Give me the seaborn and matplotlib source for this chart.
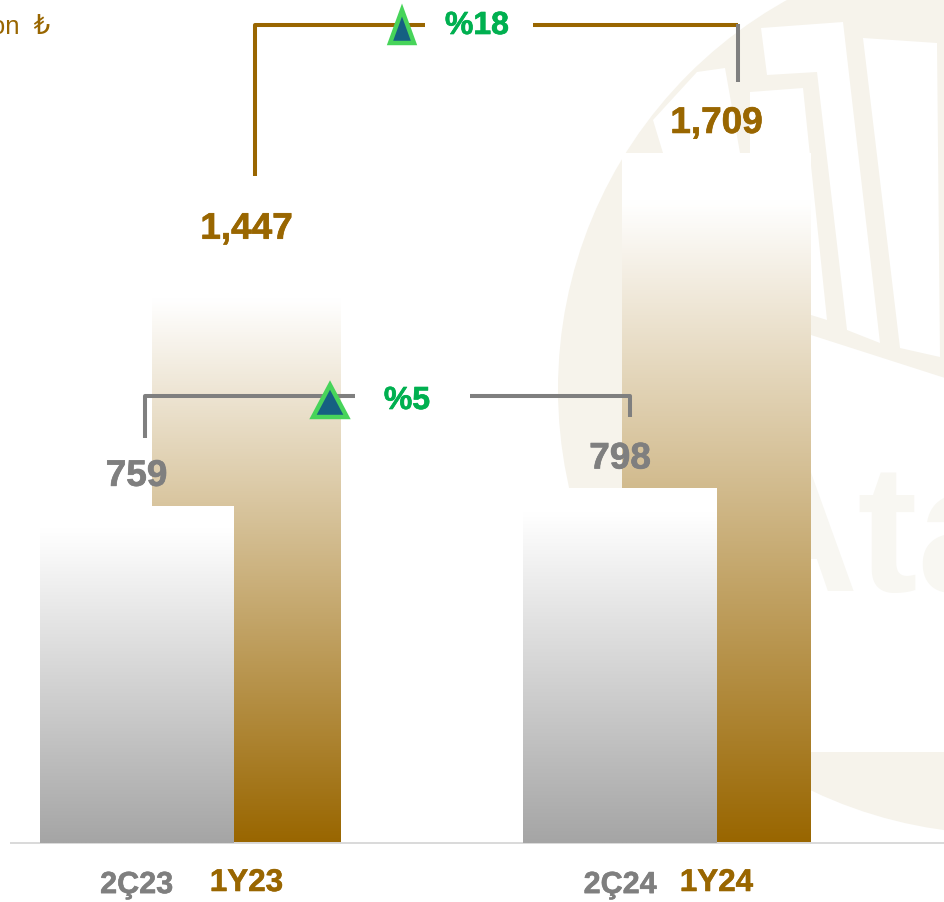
"""Semiannual vs. quarterly figures: gradient bars, bracket annotations, pale emblem behind."""

import numpy as np
import pandas as pd
import matplotlib
matplotlib.use('Agg')
import matplotlib.pyplot as plt
import matplotlib.patheffects as pe
from matplotlib.colors import LinearSegmentedColormap
from matplotlib.patches import Circle, Polygon
import seaborn as sns

# ── data ──────────────────────────────────────
QUARTER_LABELS = ['2Ç23', '2Ç24']
QUARTER_VALUES = [759, 798]
HALF_LABELS = ['1Y23', '1Y24']
HALF_VALUES = [1447, 1709]
QUARTER_CHANGE = '%5'
HALF_CHANGE = '%18'
UNIT = 'Milyon  ₺'

# ── look ──────────────────────────────────────
W, H = 945, 903
BASE_PX = 844
AXIS_LEFT = 11
GOLD = '#996600'
GRAY = '#7f7f7f'
GREEN = '#00b050'
PALE = '#f6f3eb'
PALER = '#f8f7f2'

sns.set_theme(style='white')
plt.rcParams['font.family'] = ['Liberation Sans', 'DejaVu Sans']

fig = plt.figure(figsize=(W / 100, H / 100), dpi=100, facecolor='white')


def heavy(colour, width=0.5):
    return [pe.withStroke(linewidth=width, foreground=colour)]


def px_axes(zorder):
    """Full-figure axes that work in image pixels (y down)."""
    ax = fig.add_axes([0, 0, 1, 1], zorder=zorder)
    ax.set_xlim(0, W)
    ax.set_ylim(H - 1, -1)
    ax.axis('off')
    return ax


def bar_axes(zorder, labels, values, width, colour, top, centre0, spacing, pad, label_pad, tick_size):
    """One bar series on its own axes, so each series keeps its own scale."""
    ax = fig.add_axes([AXIS_LEFT / W, 1 - BASE_PX / H, (W - AXIS_LEFT) / W, BASE_PX / H], zorder=zorder)
    ax.patch.set_alpha(0)
    df = pd.DataFrame({'period': labels, 'value': values})
    sns.barplot(data=df, x='period', y='value', ax=ax, width=width, color='white', saturation=1, linewidth=0)
    text_colour = colour if colour == GOLD else GRAY

    cmap = LinearSegmentedColormap.from_list('fade', [(0, 'white'), (0.07, 'white'), (1, colour)])
    grad = np.linspace(0, 1, 256).reshape(-1, 1)
    bars = list(ax.patches)
    for bar in bars:
        x0, x1 = bar.get_x(), bar.get_x() + bar.get_width()
        im = ax.imshow(grad, extent=(x0, x1, 0, bar.get_height()), origin='upper', aspect='auto',
                       cmap=cmap, vmin=0, vmax=1, zorder=2, interpolation='bilinear')
        im.set_clip_path(bar)

    # put category 0 and 1 on their pixel positions
    ax.set_xlim((AXIS_LEFT - centre0) / spacing, (W - centre0) / spacing)
    ax.set_ylim(0, top)
    ax.set_xlabel('')
    ax.set_ylabel('')
    ax.set_yticks([])
    ax.set_xticks(range(len(labels)), labels)
    ax.tick_params(axis='x', length=0, pad=pad, labelsize=tick_size, labelcolor=text_colour)
    for t in ax.get_xticklabels():
        t.set_fontweight('bold')
        t.set_path_effects(heavy(text_colour, 0.4))
    for name, spine in ax.spines.items():
        spine.set_visible(False)

    for i, v in enumerate(values):
        ax.annotate(f'{v:,}', xy=(i, v), xytext=(0, label_pad), textcoords='offset points',
                    ha='center', va='bottom', fontsize=26.6, fontweight='bold',
                    color=text_colour, zorder=5, path_effects=heavy(text_colour))
    return ax


# ── pale emblem behind the bars ───────────────
bg = px_axes(0)
bg.add_patch(Circle((1003, 389), 445, fc=PALE, ec='none'))
white_shapes = [
    [(761, 28), (843, 22), (880, 343), (847, 330), (817, 72), (767, 75)],
    [(863, 38), (937, 43), (940, 357), (900, 348)],
    [(750, 92), (803, 88), (827, 320), (811, 315), (811, 153), (750, 153)],
    [(697, 72), (725, 68), (740, 153), (663, 153), (653, 120)],
    [(811, 335), (945, 378), (945, 752), (700, 752), (700, 400)],
]
for pts in white_shapes:
    bg.add_patch(Polygon(pts, closed=True, fc='white', ec='none'))
bg.text(727, 590, 'Ata', fontsize=130, fontweight='bold', color=PALER, ha='left', va='baseline')

# ── bars ──────────────────────────────────────
ax_half = bar_axes(1, HALF_LABELS, HALF_VALUES, 0.402, GOLD, BASE_PX / 0.40374, 246.5, 470, 18, 8.7, 22.6)
ax_quarter = bar_axes(2, QUARTER_LABELS, QUARTER_VALUES, 0.401, '#a5a5a5', BASE_PX / 0.4445, 136.5, 483.5, 19.5, 8.5, 22)

# axis line, drawn once
ax_half.spines['bottom'].set_visible(True)
ax_half.spines['bottom'].set_color('#d9d9d9')
ax_half.spines['bottom'].set_linewidth(1.4)
ax_half.spines['bottom'].set_zorder(6)

# ── brackets and change markers ───────────────
top = px_axes(3)
LW = 2.9
top.plot([255, 255, 425], [176, 25, 25], color=GOLD, lw=LW, solid_joinstyle='round', solid_capstyle='butt')
top.plot([533, 738], [25, 25], color=GOLD, lw=LW, solid_capstyle='butt')
top.plot([738, 738], [24, 82], color=GRAY, lw=LW, solid_capstyle='butt')
top.plot([145, 145, 355], [438, 396, 396], color=GRAY, lw=LW, solid_joinstyle='round', solid_capstyle='butt')
top.plot([470, 630, 630], [396, 396, 417], color=GRAY, lw=LW, solid_joinstyle='round', solid_capstyle='butt')

for pts in ([(402, 10), (414, 43), (390, 43)], [(330, 385), (347, 417), (313, 417)]):
    top.add_patch(Polygon(pts, closed=True, fc='#156082', ec='#47d45a', lw=3.2, joinstyle='miter', zorder=4))

top.text(477, 26, HALF_CHANGE, color=GREEN, fontsize=23, fontweight='bold', ha='center', va='center',
         path_effects=heavy(GREEN))
top.text(407, 401, QUARTER_CHANGE, color=GREEN, fontsize=23, fontweight='bold', ha='center', va='center',
         path_effects=heavy(GREEN))
top.text(50, 25, UNIT, color=GOLD, fontsize=18.5, ha='right', va='center')

fig.savefig('out.png', dpi=100)
